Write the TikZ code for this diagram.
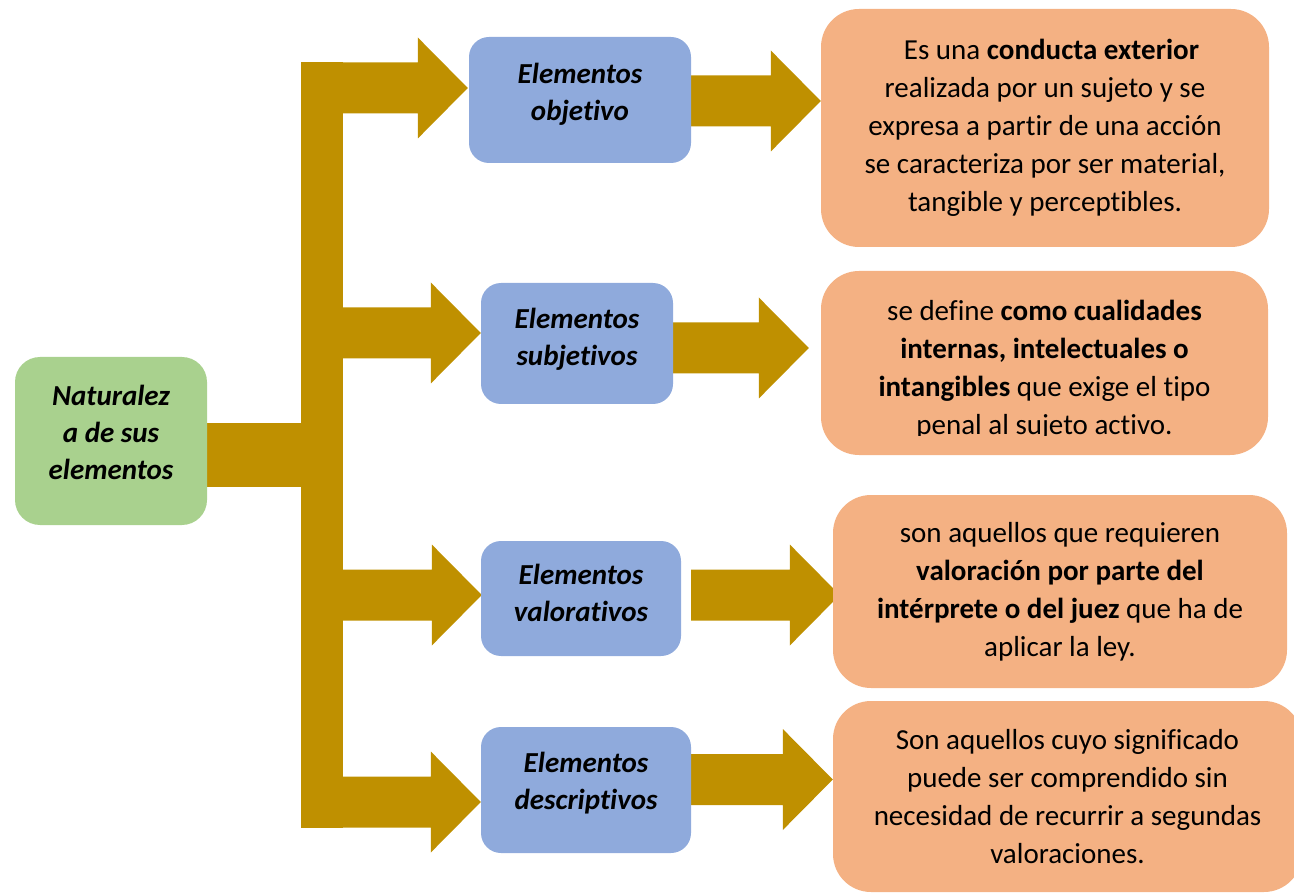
\documentclass[tikz,border=0pt]{standalone}
\usepackage{fontspec}
\setmainfont{Carlito}[Ligatures=CommonOff]
\usetikzlibrary{calc,backgrounds}

\definecolor{dorado}{HTML}{BF9000}
\definecolor{azul}{HTML}{8FAADC}
\definecolor{verde}{HTML}{A9D18E}
\definecolor{naranja}{HTML}{F4B183}

\tikzset{
  caja/.style={align=center, inner sep=0pt, font=\fontsize{29}{37}\selectfont\bfseries\itshape},
  raiz/.style={caja, fill=verde, rounded corners=25pt},
  elemento/.style={caja, fill=azul, rounded corners=20pt},
  definicion/.style={fill=naranja, rounded corners=38pt, align=center, inner sep=0pt, font=\fontsize{29}{38}\selectfont},
  flecha/.style={fill=dorado}
}

% invisible depth, lifts the text a little
\newcommand{\hundir}[1]{\vrule width 0pt height 0pt depth #1}

% block arrow: #1 tail, #2 tip
\newcommand{\flechagorda}[2]{%
  \fill[flecha] let \p1=(#1), \p2=(#2) in
    (\x1,\y2+25.5pt) -- (\x2-50pt,\y2+25.5pt) -- (\x2-50pt,\y2+50.5pt) -- (\x2,\y2)
    -- (\x2-50pt,\y2-50.5pt) -- (\x2-50pt,\y2-25.5pt) -- (\x1,\y2-25.5pt) -- cycle;}

\begin{document}
\begin{tikzpicture}[x=1pt, y=-1pt]
  \useasboundingbox (0,0) rectangle (1294,893);

  % left column
  \node[raiz, minimum width=192pt, minimum height=168pt] (naturaleza) at (111,441) {Naturalez\\a de sus\\elementos\hundir{18pt}};
  \node[flecha, minimum width=42pt, minimum height=766pt] (tronco) at (322,445) {};

  % middle column
  \node[elemento, minimum width=222pt, minimum height=126pt] (obj) at (580,100) {Elementos\\objetivo\hundir{16pt}};
  \node[elemento, minimum width=192pt, minimum height=121pt] (subj) at (577,343.5) {Elementos\\subjetivos\hundir{14pt}};
  \node[elemento, minimum width=200pt, minimum height=115pt] (val) at (581,598.5) {Elementos\\valorativos\hundir{11pt}};
  \node[elemento, minimum width=210pt, minimum height=126pt] (desc) at (586,790) {Elementos\\descriptivos\hundir{19pt}};

  % right column
  \node[definicion, minimum width=448pt, minimum height=238pt] (def1) at (1045,128)
    {\hspace*{13pt}Es una \textbf{conducta exterior}\\realizada por un sujeto y se\\expresa a partir de una acción\\se caracteriza por ser material,\\tangible y perceptibles.};
  \node[definicion, minimum width=447pt, minimum height=184pt] (def2) at (1044.5,363) {};
  \begin{scope}
    \clip (def2.north west) rectangle ([yshift=20pt]def2.south east);
    \node[definicion, fill=none] (def2txt) at (1044.5,369.5)
      {se define \textbf{como cualidades}\\\textbf{internas, intelectuales o}\\\textbf{intangibles} que exige el tipo\\penal al sujeto activo.};
  \end{scope}
  \node[definicion, minimum width=454pt, minimum height=193pt] (def3) at (1060,591.5)
    {son aquellos que requieren\\\textbf{valoración por parte del}\\\textbf{intérprete o del juez} que ha de\\aplicar la ley.};
  \node[definicion, minimum width=469pt, minimum height=191pt] (def4) at (1067.5,796.5)
    {Son aquellos cuyo significado\\puede ser comprendido sin\\necesidad de recurrir a segundas\\valoraciones.};

  % arrows behind the boxes
  \begin{scope}[on background layer]
    \fill[flecha] let \p1=(naturaleza.east), \p2=(tronco.center) in
      (\x1,\y1+18pt) rectangle (\x2,\y1-46pt);
    \flechagorda{tronco.center}{[shift={(-1,-12)}]obj.west}
    \flechagorda{tronco.center}{[shift={(0,-10.5)}]subj.west}
    \flechagorda{tronco.center}{[shift={(1,-3.5)}]val.west}
    \flechagorda{tronco.center}{[shift={(0,12)}]desc.west}
    \flechagorda{obj.east}{[shift={(0,-27)}]def1.west}
    \flechagorda{subj.east}{[shift={(-12,-15)}]def2.west}
    \flechagorda{[shift={(10,0)}]val.east}{[shift={(7,3.5)}]def3.west}
    \flechagorda{desc.east}{[shift={(0,-17)}]def4.west}
  \end{scope}
\end{tikzpicture}
\end{document}
